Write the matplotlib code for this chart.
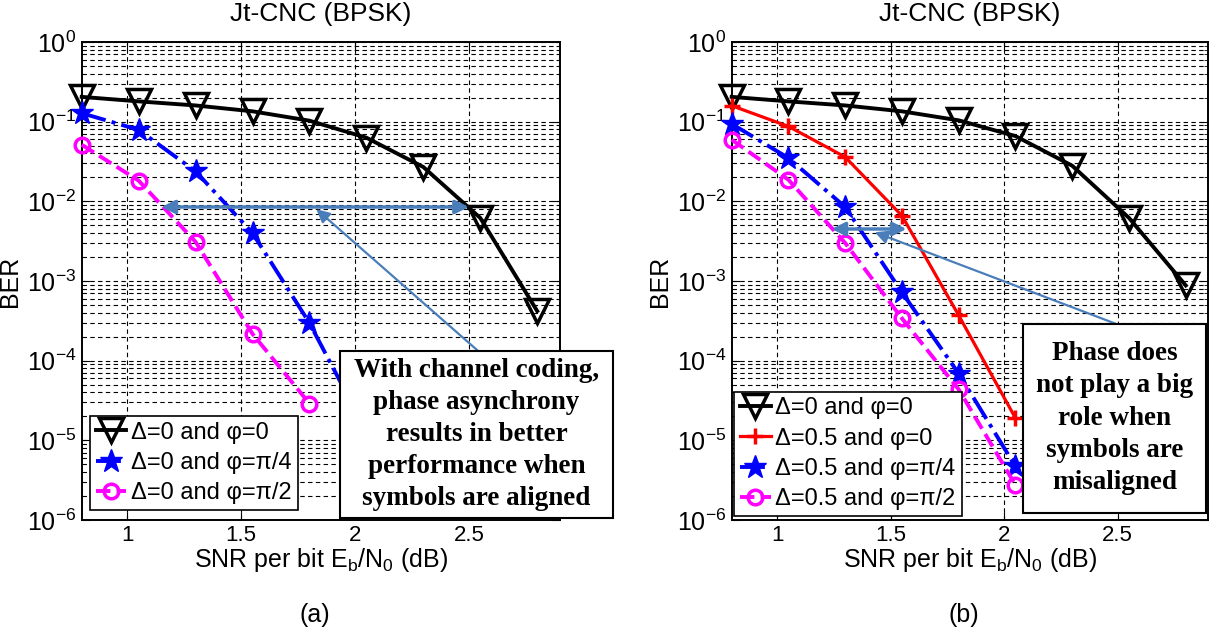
import matplotlib.pyplot as plt
import numpy as np
from matplotlib.patches import Rectangle
from matplotlib.ticker import MultipleLocator, LogLocator, FormatStrFormatter

plt.rcParams['font.family'] = ['Liberation Sans', 'DejaVu Sans']
plt.rcParams['mathtext.fontset'] = 'custom'
plt.rcParams['mathtext.rm'] = 'Liberation Sans'
plt.rcParams['mathtext.it'] = 'Liberation Sans:italic'
plt.rcParams['mathtext.bf'] = 'Liberation Sans:bold'

# SNR per bit (dB)
snr = [0.8, 1.05, 1.3, 1.55, 1.8, 2.05, 2.3, 2.55, 2.8]

# (a) symbols aligned
ber_a_p0 = [0.205, 0.18, 0.16, 0.135, 0.103, 0.063, 0.027, 0.0062, 4.2e-4]
ber_a_p4 = [0.128, 0.079, 0.0238, 0.004, 2.97e-4, 1.3e-5]
ber_a_p2 = [0.0514, 0.0182, 0.0031, 2.17e-4, 2.9e-5]
labels_a = ['Δ=0 and φ=0', 'Δ=0 and φ=π/4', 'Δ=0 and φ=π/2']

# (b) symbols misaligned
ber_b_d0_p0 = [0.205, 0.18, 0.16, 0.135, 0.104, 0.066, 0.028, 0.0062, 8.8e-4]
ber_b_p0 = [0.159, 0.0873, 0.036, 0.0066, 3.7e-4, 1.9e-5]
ber_b_p4 = [0.094, 0.035, 0.0085, 7.2e-4, 6.9e-5, 4.7e-6]
ber_b_p2 = [0.0594, 0.0187, 0.003, 3.4e-4, 4.35e-5, 2.75e-6]
labels_b = ['Δ=0 and φ=0', 'Δ=0.5 and φ=0', 'Δ=0.5 and φ=π/4', 'Δ=0.5 and φ=π/2']

text_a = "With channel coding,\nphase asynchrony\nresults in better\nperformance when\nsymbols are aligned"
text_b = "Phase does\nnot play a big\nrole when\nsymbols are\nmisaligned"

arrow_col = '#4a7ebb'
magenta = '#ff00ff'
fs = 16
fl = 17

fig = plt.figure(figsize=(12.16, 6.39), dpi=100)
ax1 = fig.add_axes([0.0672, 0.1862, 0.3933, 0.748])
ax2 = fig.add_axes([0.6017, 0.1862, 0.3921, 0.748])


def tri(ax, x, y, lab):
    ax.semilogy(x, y, 'k-', lw=2.8, marker='v', ms=17, mfc='none', mec='k',
                mew=2.5, label=lab, clip_on=False, zorder=4)


def star(ax, x, y, lab):
    ax.semilogy(x, y, color='b', ls='-.', lw=2.8, marker='*', ms=17,
                mfc='b', mec='b', label=lab, clip_on=False, zorder=4)


def circ(ax, x, y, lab):
    ax.semilogy(x, y, color=magenta, ls='--', lw=2.8, marker='o', ms=10.5,
                mfc='none', mec=magenta, mew=2.5, label=lab, clip_on=False, zorder=4)


tri(ax1, snr[:len(ber_a_p0)], ber_a_p0, labels_a[0])
star(ax1, snr[:len(ber_a_p4)], ber_a_p4, labels_a[1])
circ(ax1, snr[:len(ber_a_p2)], ber_a_p2, labels_a[2])

tri(ax2, snr[:len(ber_b_d0_p0)], ber_b_d0_p0, labels_b[0])
ax2.semilogy(snr[:len(ber_b_p0)], ber_b_p0, color='r', ls='-', lw=2.3,
             marker='+', ms=11, mew=2.5, label=labels_b[1], clip_on=False, zorder=4)
star(ax2, snr[:len(ber_b_p4)], ber_b_p4, labels_b[2])
circ(ax2, snr[:len(ber_b_p2)], ber_b_p2, labels_b[3])

for ax, cap in [(ax1, '(a)'), (ax2, '(b)')]:
    ax.set_xlim(0.8, 2.9)
    ax.set_ylim(1e-6, 1)
    ax.xaxis.set_major_locator(MultipleLocator(0.5))
    ax.xaxis.set_major_formatter(FormatStrFormatter('%g'))
    ax.yaxis.set_major_locator(LogLocator(base=10, numticks=10))
    ax.yaxis.set_minor_locator(LogLocator(base=10, subs=np.arange(2, 10), numticks=20))
    ax.grid(True, which='major', ls=(0, (4, 3)), color='k', lw=0.8)
    ax.grid(True, which='minor', axis='y', ls=(0, (4, 3)), color='k', lw=0.8)
    ax.tick_params(which='both', direction='in', top=True, right=True, labelsize=fs)
    ax.tick_params(axis='y', which='major', labelsize=18, pad=4)
    ax.tick_params(which='major', length=6)
    ax.tick_params(which='minor', length=3)
    for s in ax.spines.values():
        s.set_linewidth(1.4)
    ax.set_title('Jt-CNC (BPSK)', fontsize=19, pad=15)
    ax.set_xlabel('SNR per bit E$_\\mathregular{b}$/N$_\\mathregular{0}$ (dB)', fontsize=18, labelpad=0)
    ax.set_ylabel('BER', fontsize=18)
    ax.yaxis.set_label_coords(-0.125, 0.5)
    pos = ax.get_position()
    fig.text((pos.x0 + pos.x1) / 2 - 0.005, 0.038, cap, fontsize=18, ha='center', va='center')

leg1 = ax1.legend(loc='lower left', bbox_to_anchor=(0.017, 0.021), borderaxespad=0,
                  fontsize=fl, handlelength=1.3, handletextpad=0.2, labelspacing=0.35,
                  borderpad=0.25, fancybox=False, framealpha=1, edgecolor='k')
leg1.get_frame().set_linewidth(1.2)
leg1.set_zorder(12)
leg2 = ax2.legend(loc='lower left', bbox_to_anchor=(0.005, 0.008), borderaxespad=0,
                  fontsize=fl, handlelength=1.3, handletextpad=0.2, labelspacing=0.35,
                  borderpad=0.25, fancybox=False, framealpha=1, edgecolor='k')
leg2.get_frame().set_linewidth(1.2)
leg2.set_zorder(12)

# arrows
ax1.annotate('', xy=(2.5, 0.0085), xytext=(1.15, 0.0085),
             arrowprops=dict(arrowstyle='<|-|>', color=arrow_col, lw=2.5,
                             mutation_scale=20, shrinkA=0, shrinkB=0), zorder=6)
ax1.annotate('', xy=(1.83, 0.008), xytext=(2.54, 1.33e-4),
             arrowprops=dict(arrowstyle='-|>', color=arrow_col, lw=1.6,
                             mutation_scale=20, shrinkA=0, shrinkB=0), zorder=6)
ax2.annotate('', xy=(1.57, 0.0045), xytext=(1.24, 0.0045),
             arrowprops=dict(arrowstyle='<|-|>', color=arrow_col, lw=2.5,
                             mutation_scale=20, shrinkA=0, shrinkB=0), zorder=6)
ax2.annotate('', xy=(1.43, 0.0041), xytext=(2.49, 2.92e-4),
             arrowprops=dict(arrowstyle='-|>', color=arrow_col, lw=1.6,
                             mutation_scale=20, shrinkA=0, shrinkB=0), zorder=6)

# text boxes
for ax, (x0, x1, y0, y1), txt in [(ax1, (0.540, 1.111, 0.004, 0.354), text_a),
                                  (ax2, (0.612, 0.994, 0.015, 0.411), text_b)]:
    ax.add_patch(Rectangle((x0, y0), x1 - x0, y1 - y0, transform=ax.transAxes,
                           facecolor='white', edgecolor='k', lw=1.5,
                           clip_on=False, zorder=10))
    ax.text((x0 + x1) / 2, (y0 + y1) / 2, txt, transform=ax.transAxes,
            ha='center', va='center', fontsize=19.5, fontweight='bold',
            family='Liberation Serif', linespacing=1.38, zorder=11)

fig.savefig('out.png', dpi=100)
